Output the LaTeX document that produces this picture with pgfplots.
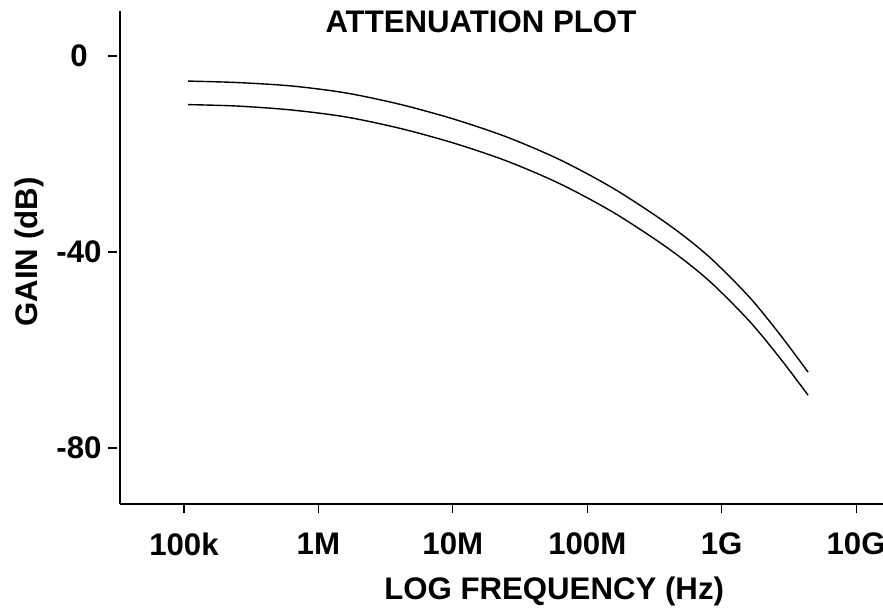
\documentclass[border=0pt]{standalone}
\usepackage{fontspec}
\setmainfont{Liberation Sans}
\usepackage{pgfplots}
\pgfplotsset{compat=1.18}
\newcommand{\lbl}{\fontsize{15.6}{18}\selectfont\bfseries}
\begin{document}
\begin{tikzpicture}
\begin{axis}[
  at={(0,0)}, anchor=south west,
  scale only axis,
  width=381.5pt, height=246.5pt,
  xmin=4.524, xmax=10.2,
  ymin=-91.4, ymax=9.2,
  axis x line*=bottom, axis y line*=left,
  axis line style={line width=0.9pt, black},
  xtick={5,6,7,8,9,10},
  xticklabels={100k,1M,10M,100M,1G,10G},
  ytick={0,-40,-80},
  yticklabels={0,-40,-80},
  tick align=outside,
  major tick length=4.5pt,
  xtick style={line width=0.6pt, black},
  ytick style={line width=0.8pt, black, xshift=-1.5pt},
  minor tick num=0,
  xticklabel style={font=\lbl, anchor=center, yshift=-15.5pt},
  yticklabel style={font=\lbl, anchor=center, xshift=-16pt},
  every axis x label/.style={at={(axis description cs:0.569,-0.1775)}, anchor=center},
  every axis y label/.style={at={(axis description cs:-0.1193,0.511)}, anchor=center, rotate=90},
  xlabel={\lbl LOG FREQUENCY (Hz)},
  ylabel={\lbl GAIN (dB)},
  clip=false,
]
\addplot[black, line width=0.7pt, smooth] coordinates {
(5.03,-5.1) (5.4,-5.4) (5.8,-6.1) (6.2,-7.5) (6.6,-9.8) (7.0,-12.8) (7.4,-16.5) (7.8,-21.2) (8.2,-27.1) (8.6,-34.3) (8.9,-40.8) (9.2,-49.0) (9.43,-56.7) (9.643,-64.5)
};
\addplot[black, line width=0.7pt, smooth] coordinates {
(5.03,-9.9) (5.4,-10.2) (5.8,-11.0) (6.2,-12.4) (6.6,-14.7) (7.0,-17.7) (7.4,-21.4) (7.8,-26.1) (8.2,-32.0) (8.6,-39.2) (8.9,-45.7) (9.2,-53.9) (9.43,-61.5) (9.643,-69.2)
};
\node[font=\lbl, anchor=center] at (axis description cs:0.473,0.978) {ATTENUATION PLOT};
\end{axis}
\pgfresetboundingbox
\path[use as bounding box] (-60pt,-55.5pt) rectangle (381.5pt,252pt);
\end{tikzpicture}
\end{document}
